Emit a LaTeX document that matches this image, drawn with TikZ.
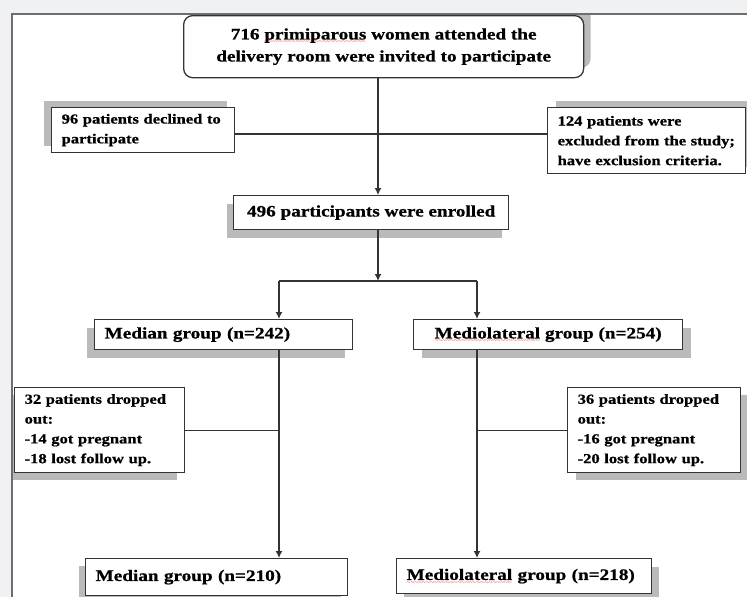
\documentclass[tikz,border=0pt]{standalone}
\usepackage{fontspec}
\setmainfont[FakeStretch=1.2, BoldFeatures={FakeBold=0.8}]{Liberation Serif}
\usetikzlibrary{arrows.meta, shadows}

\definecolor{pagebg}{HTML}{F0F1F3}
\definecolor{framegray}{HTML}{6E6E6E}
\definecolor{linegray}{HTML}{333333}

\newcommand\spellwave[1]{\setbox0\hbox{#1}\rlap{\raisebox{-4.5pt}[0pt][0pt]{\color{red}\mdseries\fontsize{6}{6}\selectfont\leaders\hbox{\char126}\hskip\wd0}}#1}

\tikzset{x=1pt, y=-1pt, >={Latex[length=7pt, width=7pt]},
  box/.style={draw=linegray, fill=white, line width=1.3pt, anchor=north west,
    inner xsep=10pt, inner ysep=0pt, font=\bfseries\fontsize{16}{22}\selectfont},
  smallbox/.style={box, font=\bfseries\fontsize{13.8}{19.8}\selectfont},
  boxshade/.style 2 args={drop shadow={shadow xshift=#1, shadow yshift=#2,
    fill=black!27, opacity=1}},
  flow/.style={->, draw=linegray, line width=1.3pt},
  link/.style={draw=linegray, line width=1.3pt}}

\begin{document}
\begin{tikzpicture}
    \useasboundingbox[fill=pagebg] (0,0) rectangle (747,597);
    \fill[white] (12,14) rectangle (747,597);
    \begin{scope}
    \clip (12,14) rectangle (747,597);
    % boxes
    \node[box, rounded corners=9pt, align=center, minimum width=400, minimum height=62,
        boxshade={7pt}{10pt}] (invited) at (183,15)
        {716 \spellwave{primiparous} women attended the\\delivery room were invited to participate};
    \node[smallbox, align=left, text width=163, minimum height=45,
        boxshade={-8pt}{7pt}] (declined) at (51,107)
        {96 patients declined to\\participate};
    \node[smallbox, align=left, text width=178, minimum height=66,
        boxshade={8pt}{7pt}] (excluded) at (547,107)
        {124 patients were\\excluded from the study;\\have exclusion criteria.};
    \node[box, align=center, minimum width=275, minimum height=34,
        boxshade={-7pt}{-8pt}] (enrolled) at (233,195)
        {496 participants were enrolled};
    \node[box, align=left, text width=238, minimum height=30,
        boxshade={-8pt}{-8pt}] (median1) at (94,319)
        {Median group (n=242)};
    \node[box, align=center, minimum width=269, minimum height=30,
        boxshade={8pt}{-8pt}] (medio1) at (413,319)
        {\spellwave{Mediolateral} group (n=254)};
    \node[smallbox, align=left, text width=150, minimum height=85,
        boxshade={-8pt}{-7pt}] (drop1) at (14,387)
        {32 patients dropped\\out:\\-14 got pregnant\\-18 lost follow up.};
    \node[smallbox, align=left, text width=153, minimum height=85,
        boxshade={8pt}{-7pt}] (drop2) at (567,387)
        {36 patients dropped\\out:\\-16 got pregnant\\-20 lost follow up.};
    \node[box, align=left, text width=242, minimum height=37,
        boxshade={-7pt}{-7pt}] (median2) at (85,558)
        {Median group (n=210)};
    \node[box, align=left, text width=235, minimum height=35,
        boxshade={7pt}{-8pt}] (medio2) at (396,558)
        {\spellwave{Mediolateral} group (n=218)};
    % connectors
    \coordinate (trunk) at (378,134);
    \coordinate (fork) at (378,281);
    \coordinate (lbranch) at (279,281);
    \coordinate (rbranch) at (477,281);
    \draw[flow] (invited.south -| trunk) -- (enrolled.north -| trunk);
    \draw[link] (declined.east |- trunk) -- (excluded.west |- trunk);
    \draw[flow] (enrolled.south -| fork) -- (fork);
    \draw[link] (lbranch) -- (rbranch);
    \draw[flow] (lbranch) -- (median1.north -| lbranch);
    \draw[flow] (rbranch) -- (medio1.north -| rbranch);
    \draw[flow] (median1.south -| lbranch) -- (median2.north -| lbranch);
    \draw[flow] (medio1.south -| rbranch) -- (medio2.north -| rbranch);
    \draw[link] (drop1.east) -- (drop1.east -| lbranch);
    \draw[link] (drop2.west) -- (drop2.west -| rbranch);
    \end{scope}
    \draw[framegray, line width=1.5pt] (12,597) -- (12,14) -- (747,14);
\end{tikzpicture}
\end{document}
